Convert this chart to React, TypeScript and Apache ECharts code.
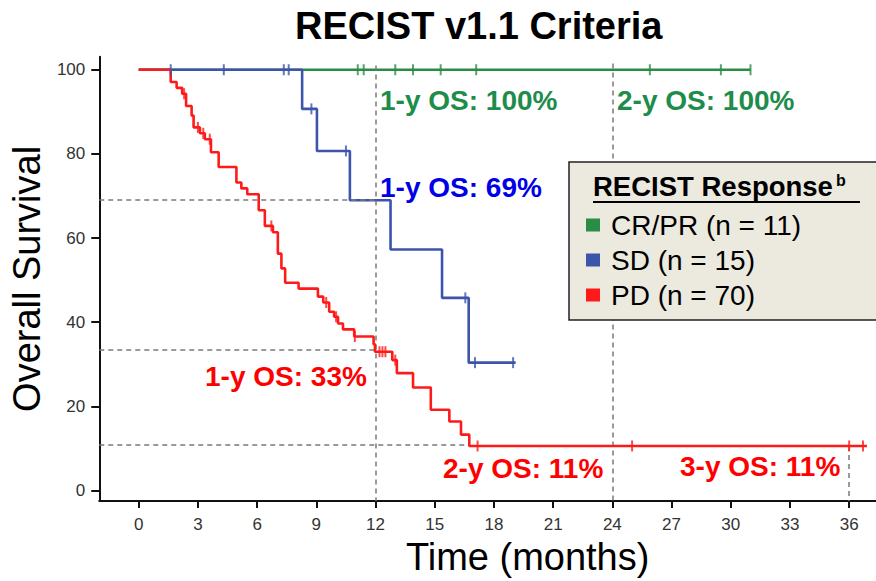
import React, { useEffect, useRef } from "react";
import * as echarts from "echarts";

const FONT = "'Liberation Sans', Arial, Helvetica, sans-serif";

// Axis ticks
const xTicks = [0, 3, 6, 9, 12, 15, 18, 21, 24, 27, 30, 33, 36];
const yTicks = [0, 20, 40, 60, 80, 100];

// CR/PR (n = 11)
const crprTimes = [0, 31.0];
const crprSurv = [100, 100];
const crprCensor = [11.1, 11.4, 13.0, 13.9, 15.3, 17.1, 25.9, 29.5, 31.0];

// SD (n = 15)
const sdTimes = [0, 8.28, 9.03, 10.7, 12.76, 15.37, 16.72, 19.1];
const sdSurv = [100, 90.7, 80.7, 69.0, 57.3, 45.8, 30.4, 30.4];
const sdCensor = [1.62, 4.31, 7.35, 7.6, 8.75, 10.5, 16.55, 17.04, 18.97];

// PD (n = 70)
const pdTimes = [0, 1.62, 1.92, 2.2, 2.4, 2.68, 2.78, 3.1, 3.35, 3.66, 4.05, 4.95, 5.2, 5.5, 6.08, 6.39, 6.8, 7.05, 7.23, 7.42, 8.1, 9.08, 9.35, 9.65, 9.9, 10.1, 10.35, 10.92, 11.9, 11.97, 12.85, 13.08, 13.9, 14.8, 15.74, 16.33, 16.75, 36.9];
const pdSurv = [100, 97.1, 95.7, 94.3, 91.4, 89.1, 86.3, 84.9, 83.5, 80.4, 76.9, 73.2, 71.8, 70.4, 66.6, 62.9, 61.4, 56.3, 52.8, 49.4, 48.0, 46.1, 44.7, 42.5, 41.3, 39.7, 38.3, 36.6, 34.8, 33.0, 31.0, 27.9, 24.5, 19.2, 16.4, 13.3, 10.6, 10.6];
const pdCensor = [2.3, 3.0, 3.27, 3.6, 6.72, 9.5, 10.0, 10.95, 12.2, 12.35, 12.5, 13.0, 17.17, 25.0, 36.0, 36.7];

// Reference (milestone) lines
const vRefTimes = [12, 24, 36];
const vRefTops = [101, 101.5, 10.6];
const hRefValues = [69, 33.5, 11];
const hRefEnds = [12, 12, 16.75];

const seriesNames = ["CR/PR (n = 11)", "SD (n = 15)", "PD (n = 70)"];
const lineColors = ["#2a8c46", "#3c55aa", "#ff1a1a"];

function pairs(t: number[], s: number[]) {
  return t.map((v, i) => [v, s[i]]);
}
function survAt(t: number[], s: number[], x: number) {
  let v = s[0];
  for (let i = 0; i < t.length; i++) if (t[i] <= x) v = s[i];
  return v;
}

export default function App() {
  const ref = useRef<HTMLDivElement>(null);
  useEffect(() => {
    if (!ref.current) return;
    const chart = echarts.init(ref.current, undefined, { renderer: "svg" });
    const curves = [
      { t: crprTimes, s: crprSurv, c: crprCensor },
      { t: sdTimes, s: sdSurv, c: sdCensor },
      { t: pdTimes, s: pdSurv, c: pdCensor },
    ];
    const lineSeries = curves.map((cv, i) => ({
      type: "line",
      name: seriesNames[i],
      step: "end",
      data: pairs(cv.t, cv.s),
      showSymbol: false,
      color: lineColors[i],
      lineStyle: { color: lineColors[i], width: 2.6 },
      z: 3 + i,
    }));
    const censorSeries = curves.map((cv, i) => ({
      type: "scatter",
      name: seriesNames[i] + " censored",
      data: cv.c.map((x) => [x, survAt(cv.t, cv.s, x)]),
      symbol: "rect",
      symbolSize: [2, 11],
      itemStyle: { color: lineColors[i] },
      z: 6,
    }));
    const refData: any[] = [];
    vRefTimes.forEach((x, i) => refData.push([{ coord: [x, vRefTops[i]] }, { coord: [x, -2.5] }]));
    hRefValues.forEach((y, i) => refData.push([{ coord: [-2, y] }, { coord: [hRefEnds[i], y] }]));

    const ann = (text: string, x: number, y: number, fill: string) => ({
      type: "text",
      x,
      y,
      z: 12,
      style: {
        text,
        fill,
        font: `bold 28px ${FONT}`,
        align: "left",
        verticalAlign: "middle",
        textAlign: "left",
        textVerticalAlign: "middle",
      },
    });

    chart.setOption({
      animation: false,
      backgroundColor: "#ffffff",
      title: {
        text: "RECIST v1.1 Criteria",
        left: 290,
        top: 2,
        textStyle: { fontFamily: FONT, fontSize: 38, fontWeight: "bold", color: "#000" },
      },
      grid: { left: 97.5, right: 0, top: 56.7, bottom: 77.7 },
      legend: {
        data: seriesNames,
        orient: "vertical",
        left: 581,
        top: 205,
        icon: "rect",
        itemWidth: 14,
        itemHeight: 13,
        itemGap: 5,
        z: 20,
        selectedMode: false,
        formatter: "{a|{name}}",
        textStyle: {
          fontFamily: FONT,
          fontSize: 28,
          color: "#000",
          lineHeight: 30,
          rich: {
            a: { fontFamily: FONT, fontSize: 28, color: "#000", lineHeight: 30, padding: [0, 0, 0, 6] },
          },
        },
      },
      xAxis: {
        type: "value",
        min: -2,
        max: 37.36,
        name: "Time (months)",
        nameLocation: "middle",
        nameGap: 32,
        nameTextStyle: { fontFamily: FONT, fontSize: 38, color: "#000", padding: [0, 0, 0, 80] },
        axisLine: { onZero: false, lineStyle: { color: "#111", width: 2 } },
        axisTick: { show: true, customValues: xTicks, length: 7, lineStyle: { color: "#111", width: 2 } },
        axisLabel: { customValues: xTicks, fontFamily: FONT, fontSize: 17, color: "#333", margin: 15 },
        splitLine: { show: false },
      },
      yAxis: {
        type: "value",
        min: -2.5,
        max: 103.1,
        name: "Overall Survival",
        nameLocation: "middle",
        nameGap: 46,
        nameRotate: 90,
        nameTextStyle: { fontFamily: FONT, fontSize: 38, color: "#000" },
        axisLine: { onZero: false, lineStyle: { color: "#111", width: 2 } },
        axisTick: { show: true, customValues: yTicks, length: 8, lineStyle: { color: "#111", width: 2 } },
        axisLabel: { customValues: yTicks, fontFamily: FONT, fontSize: 17, color: "#333", margin: 14 },
        splitLine: { show: false },
      },
      series: [
        {
          type: "line",
          name: "reference",
          data: [],
          z: 2,
          markLine: {
            silent: true,
            symbol: ["none", "none"],
            label: { show: false },
            lineStyle: { type: [5, 4], color: "#7a7a7a", width: 1.5 },
            data: refData,
          },
        },
        ...lineSeries,
        ...censorSeries,
      ],
      graphic: [
        ann("1-y OS: 100%", 380, 100, "#1e8c4b"),
        ann("2-y OS: 100%", 617, 100, "#1e8c4b"),
        ann("1-y OS: 69%", 380, 187, "#0000e6"),
        ann("1-y OS: 33%", 205, 376, "#ff0000"),
        ann("2-y OS: 11%", 443, 468, "#ff0000"),
        ann("3-y OS: 11%", 680, 466, "#ff0000"),
        {
          type: "rect",
          z: 10,
          shape: { x: 569, y: 162, width: 320, height: 158 },
          style: { fill: "#ece9df", stroke: "#222", lineWidth: 1.5 },
        },
        {
          type: "text",
          x: 593,
          y: 186,
          z: 11,
          style: {
            text: "RECIST Response",
            fill: "#000",
            font: `bold 27.5px ${FONT}`,
            align: "left",
            verticalAlign: "middle",
            textAlign: "left",
            textVerticalAlign: "middle",
          },
        },
        {
          type: "text",
          x: 836,
          y: 180,
          z: 11,
          style: {
            text: "b",
            fill: "#000",
            font: `bold 16px ${FONT}`,
            align: "left",
            verticalAlign: "middle",
            textAlign: "left",
            textVerticalAlign: "middle",
          },
        },
        {
          type: "line",
          z: 11,
          shape: { x1: 593, y1: 202, x2: 860, y2: 202 },
          style: { stroke: "#000", lineWidth: 2 },
        },
      ],
    });
    return () => chart.dispose();
  }, []);
  return <div ref={ref} style={{ position: "fixed", left: 0, top: 0, width: 876, height: 581 }} />;
}
